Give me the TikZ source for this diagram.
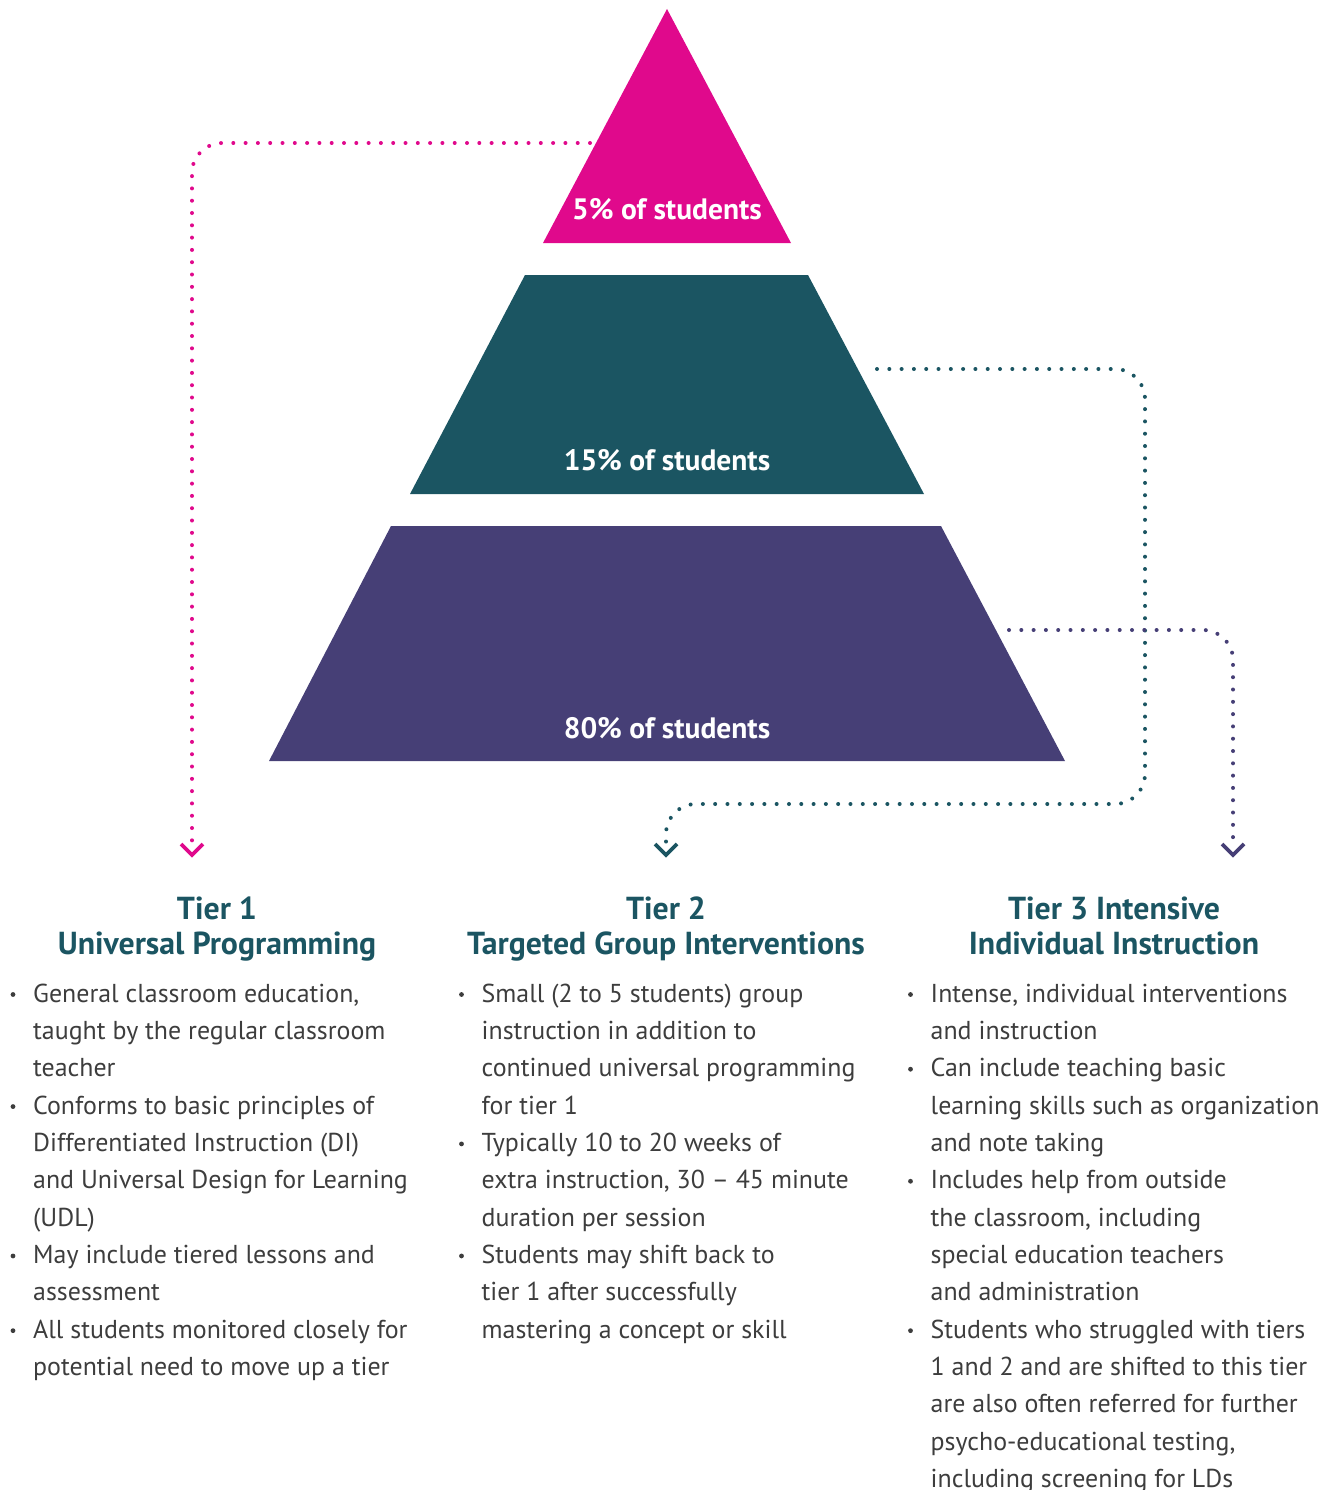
\documentclass[tikz,border=0pt]{standalone}
\usepackage{fontspec}
\setmainfont{PT Sans}
\newfontfamily\headfont{PT Sans}
\definecolor{cmag}{HTML}{E0098C}
\definecolor{cteal}{HTML}{1B5562}
\definecolor{cpurp}{HTML}{463F76}
\definecolor{cbody}{HTML}{3D3D3D}
\tikzset{
  dots/.style={line width=4pt, line cap=round, dash pattern=on 0pt off 12.3pt, rounded corners=30pt},
  chev/.style={line width=3.6pt, line join=miter},
  lbl/.style={font=\headfont\bfseries\fontsize{29.5}{34}\selectfont, text=white, anchor=base, inner sep=0pt},
  head/.style={font=\headfont\bfseries\fontsize{31.8}{36}\selectfont, text=cteal, anchor=base, inner sep=0pt},
  body/.style={font=\fontsize{25.9}{30}\selectfont, text=cbody, anchor=base west, inner sep=0pt},
  bul/.style={circle, fill=cbody, inner sep=0pt, minimum size=4.8pt}
}
\begin{document}
\begin{tikzpicture}[x=1pt,y=-1pt]
\useasboundingbox (0,0) rectangle (1325,1490);
% pyramid
\fill[cmag] (667,9) -- (791,243) -- (543,243) -- cycle;
\fill[cteal] (525,275) -- (808,275) -- (924,494) -- (410,494) -- cycle;
\fill[cpurp] (391,526) -- (941,526) -- (1065,761) -- (269,761) -- cycle;
\node[lbl] (l5) at (667,219) {5\% of students};
\node[lbl] (l15) at (667,470) {15\% of students};
\node[lbl] (l80) at (667,738) {80\% of students};
% connector end points
\coordinate (s1) at (590,143);
\coordinate (s2) at (877,369);
\coordinate (s3) at (1009,630);
\coordinate (e1) at (192,848);
\coordinate (e2) at (666,848);
\coordinate (e3) at (1233,848);
\coordinate (t1) at (192,855);
\coordinate (t2) at (666,855);
\coordinate (t3) at (1233,855);
% dotted connectors
\draw[dots, cmag] (s1) -| (e1);
\draw[dots, cteal] (s2) -- (1145,369) -- (1145,804) -- (666,804) -- (e2);
\draw[dots, cpurp] (s3) -| (e3);
% chevrons
\draw[chev, cmag] ([shift={(-11,-11)}]t1) -- (t1) -- ++(11,-11);
\draw[chev, cteal] ([shift={(-11,-11)}]t2) -- (t2) -- ++(11,-11);
\draw[chev, cpurp] ([shift={(-11,-11)}]t3) -- (t3) -- ++(11,-11);
% headings
\node[head] (h1a) at (217,919) {Tier 1};
\node[head] (h1b) at (217,954) {Universal Programming};
\node[head] (h2a) at (666,919) {Tier 2};
\node[head] (h2b) at (666,954) {Targeted Group Interventions};
\node[head] (h3a) at (1114,919) {Tier 3 Intensive};
\node[head] (h3b) at (1114,954) {Individual Instruction};
% column 1
\foreach \b/\t [count=\i] in {
 1/{General classroom education,},
 0/{taught by the regular classroom},
 0/{teacher},
 1/{Conforms to basic principles of},
 0/{Differentiated Instruction (DI)},
 0/{and Universal Design for Learning},
 0/{(UDL)},
 1/{May include tiered lessons and},
 0/{assessment},
 1/{All students monitored closely for},
 0/{potential need to move up a tier}} {
  \node[body] (ca-\i) at (33,{1002+(\i-1)*37.35}) {\t};
  \ifnum\b=1 \node[bul] (ba-\i) at (13,{994.5+(\i-1)*37.35}) {};\fi
}
% column 2
\foreach \b/\t [count=\i] in {
 1/{Small (2 to 5 students) group},
 0/{instruction in addition to},
 0/{continued universal programming},
 0/{for tier 1},
 1/{Typically 10 to 20 weeks of},
 0/{extra instruction, 30 – 45 minute},
 0/{duration per session},
 1/{Students may shift back to},
 0/{tier 1 after successfully},
 0/{mastering a concept or skill}} {
  \node[body] (cb-\i) at (481.5,{1002+(\i-1)*37.35}) {\t};
  \ifnum\b=1 \node[bul] (bb-\i) at (461.5,{994.5+(\i-1)*37.35}) {};\fi
}
% column 3
\foreach \b/\t [count=\i] in {
 1/{Intense, individual interventions},
 0/{and instruction},
 1/{Can include teaching basic},
 0/{learning skills such as organization},
 0/{and note taking},
 1/{Includes help from outside},
 0/{the classroom, including},
 0/{special education teachers},
 0/{and administration},
 1/{Students who struggled with tiers},
 0/{1 and 2 and are shifted to this tier},
 0/{are also often referred for further},
 0/{psycho-educational testing,},
 0/{including screening for LDs}} {
  \node[body] (cc-\i) at (930.5,{1002+(\i-1)*37.35}) {\t};
  \ifnum\b=1 \node[bul] (bc-\i) at (910.5,{994.5+(\i-1)*37.35}) {};\fi
}
\end{tikzpicture}
\end{document}
